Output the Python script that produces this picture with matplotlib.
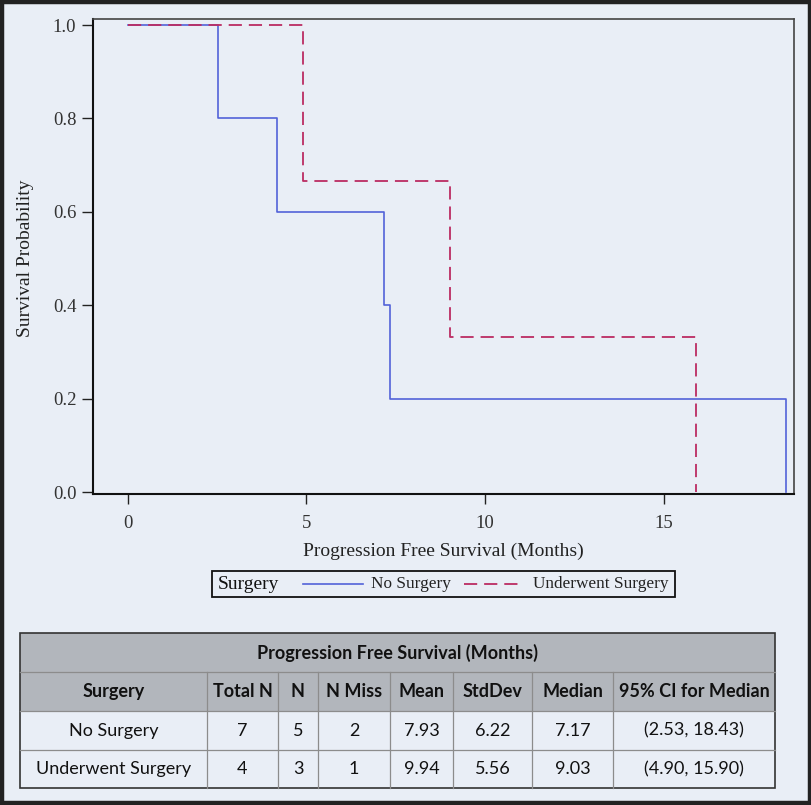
import matplotlib
matplotlib.use("Agg")
import matplotlib.pyplot as plt
from matplotlib.patches import Rectangle
from matplotlib.lines import Line2D

# Kaplan-Meier step data (time in months, survival probability)
no_surg_time = [0, 2.53, 4.17, 7.17, 7.33, 18.43]
no_surg_surv = [1.0, 0.8, 0.6, 0.4, 0.2, 0.0]
surg_time = [0, 4.90, 9.03, 15.90]
surg_surv = [1.0, 0.667, 0.333, 0.0]

x_ticks = [0, 5, 10, 15]
y_ticks = [0.0, 0.2, 0.4, 0.6, 0.8, 1.0]

group_labels = ["No Surgery", "Underwent Surgery"]

table_title = "Progression Free Survival (Months)"
table_header = ["Surgery", "Total N", "N", "N Miss", "Mean", "StdDev",
                "Median", "95% CI for Median"]
table_rows = [
    ["No Surgery", "7", "5", "2", "7.93", "6.22", "7.17", "(2.53, 18.43)"],
    ["Underwent Surgery", "4", "3", "1", "9.94", "5.56", "9.03", "(4.90, 15.90)"],
]

bg = "#e9eef6"
head_bg = "#b2b6bc"
blue = "#5262d8"
red = "#bb2c62"
serif = ["Liberation Serif", "DejaVu Serif"]
sans = ["Lato", "DejaVu Sans"]

plt.rcParams["lines.scale_dashes"] = False

W, H = 812, 805
fig = plt.figure(figsize=(W / 100, H / 100), dpi=100, facecolor=bg)

# ---- survival plot ----
ax = fig.add_axes([93 / W, 1 - 494 / H, (794 - 93) / W, (494 - 19) / H])
ax.set_facecolor(bg)
ax.step(no_surg_time, no_surg_surv, where="post", color=blue, lw=1.2,
        label=group_labels[0])
red_line, = ax.step(surg_time, surg_surv, where="post", color=red, lw=1.3,
                    label=group_labels[1])
red_line.set_dashes((9.5, 5))

ax.set_xlim(-0.97, 18.65)
ax.set_ylim(-0.004, 1.013)
ax.set_xticks(x_ticks)
ax.set_xticklabels([str(t) for t in x_ticks])
ax.set_yticks(y_ticks)
ax.set_yticklabels(["%.1f" % t for t in y_ticks])
for lab in ax.get_xticklabels() + ax.get_yticklabels():
    lab.set_family(serif)
    lab.set_fontsize(13.5)
    lab.set_color("#333333")
ax.tick_params(axis="x", length=7, width=1, pad=8, color="#222222")
ax.tick_params(axis="y", length=8, width=1, pad=4, color="#222222")
for side in ["left", "bottom"]:
    ax.spines[side].set_linewidth(1.5)
    ax.spines[side].set_color("#111111")
for side in ["top", "right"]:
    ax.spines[side].set_linewidth(1.2)
    ax.spines[side].set_color("#444444")

fig.text(443 / W, 1 - 551 / H, "Progression Free Survival (Months)",
         family=serif, fontsize=14, color="#222222", ha="center", va="center")
fig.text(26 / W, 1 - 258 / H, "Survival Probability", family=serif,
         fontsize=14, color="#222222", rotation=90, ha="center", va="center")

# ---- overlay in pixel coordinates for legend, table and frame ----
ov = fig.add_axes([0, 0, 1, 1], facecolor="none")
ov.set_xlim(0, W)
ov.set_ylim(H, 0)
ov.axis("off")

# legend
ov.add_patch(Rectangle((212, 571), 463, 26, fill=False, ec="#111111", lw=1.3))
ly = 584
ov.text(218, ly, "Surgery", family=serif, fontsize=14, color="#111111",
        va="center", ha="left")
ov.add_line(Line2D([303, 363], [ly, ly], color=blue, lw=1.2))
ov.text(371, ly, group_labels[0], family=serif, fontsize=12.4, color="#222222",
        va="center", ha="left")
leg_red = Line2D([464, 522], [ly, ly], color=red, lw=1.3)
leg_red.set_dashes((9.5, 5))
ov.add_line(leg_red)
ov.text(533, ly, group_labels[1], family=serif, fontsize=12.4, color="#222222",
        va="center", ha="left")

# summary table
col_edges = [20, 207, 278, 318, 390, 453, 532, 613, 775]
row_edges = [633, 672, 711, 750, 788]
grid_c = "#8c8c8c"

ov.add_patch(Rectangle((col_edges[0], row_edges[0]), col_edges[-1] - col_edges[0],
                       row_edges[2] - row_edges[0], fc=head_bg, ec="none"))
ov.add_patch(Rectangle((col_edges[0], row_edges[2]), col_edges[-1] - col_edges[0],
                       row_edges[-1] - row_edges[2], fc=bg, ec="none"))
# horizontal lines
for y in row_edges[1:-1]:
    ov.add_line(Line2D([col_edges[0], col_edges[-1]], [y, y], color=grid_c, lw=0.9))
# vertical lines (below title row)
for x in col_edges[1:-1]:
    ov.add_line(Line2D([x, x], [row_edges[1], row_edges[-1]], color=grid_c, lw=0.9))
ov.add_patch(Rectangle((col_edges[0], row_edges[0]), col_edges[-1] - col_edges[0],
                       row_edges[-1] - row_edges[0], fill=False, ec="#333333", lw=1.2))

ov.text((col_edges[0] + col_edges[-1]) / 2, (row_edges[0] + row_edges[1]) / 2,
        table_title, family=sans, fontsize=13, fontweight="bold",
        color="#111111", ha="center", va="center")
for i, h in enumerate(table_header):
    ov.text((col_edges[i] + col_edges[i + 1]) / 2, (row_edges[1] + row_edges[2]) / 2,
            h, family=sans, fontsize=13, fontweight="bold", color="#111111",
            ha="center", va="center")
for r, row in enumerate(table_rows):
    yc = (row_edges[2 + r] + row_edges[3 + r]) / 2
    for i, val in enumerate(row):
        ov.text((col_edges[i] + col_edges[i + 1]) / 2, yc, val, family=sans,
                fontsize=13, color="#111111", ha="center", va="center")

# outer dark frame
ov.add_patch(Rectangle((2, 2), W - 4, H - 4, fill=False, ec="#222222", lw=3.2))

fig.savefig("out.png", dpi=100, facecolor=bg)
